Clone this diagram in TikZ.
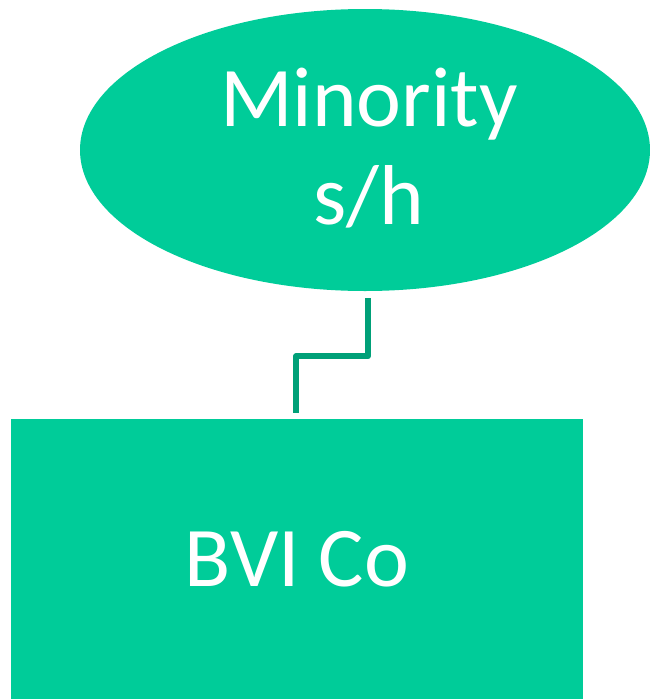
\documentclass[tikz,border=0pt]{standalone}
\usepackage{fontspec}
\setmainfont{Carlito}
\usetikzlibrary{shapes.geometric}
\definecolor{boxgreen}{RGB}{0,204,153}
\definecolor{linkgreen}{RGB}{0,160,120}
\begin{document}
\begin{tikzpicture}[x=1pt,y=-1pt,
  entity/.style={fill=boxgreen, draw=none, inner sep=0pt, text=white,
    align=center, font=\fontsize{85}{98}\selectfont},
  link/.style={draw=linkgreen, line width=6pt, line join=round}]
  \useasboundingbox (0,0) rectangle (650,699);
  % shareholder ellipse
  \node[entity, ellipse, minimum width=570pt, minimum height=282pt] (holder) at (365,150) {};
  \node[entity, fill=none] (holdertext) at (369,148) {Minority\\s/h};
  % company box
  \node[entity, rectangle, minimum width=572pt, minimum height=280pt] (company) at (297,559) {BVI Co};
  % ownership link
  \draw[link, shorten <=7pt, shorten >=6pt]
    ([xshift=3pt]holder.south) -- ++(0,65) -| ([xshift=-1pt]company.north);
\end{tikzpicture}
\end{document}
